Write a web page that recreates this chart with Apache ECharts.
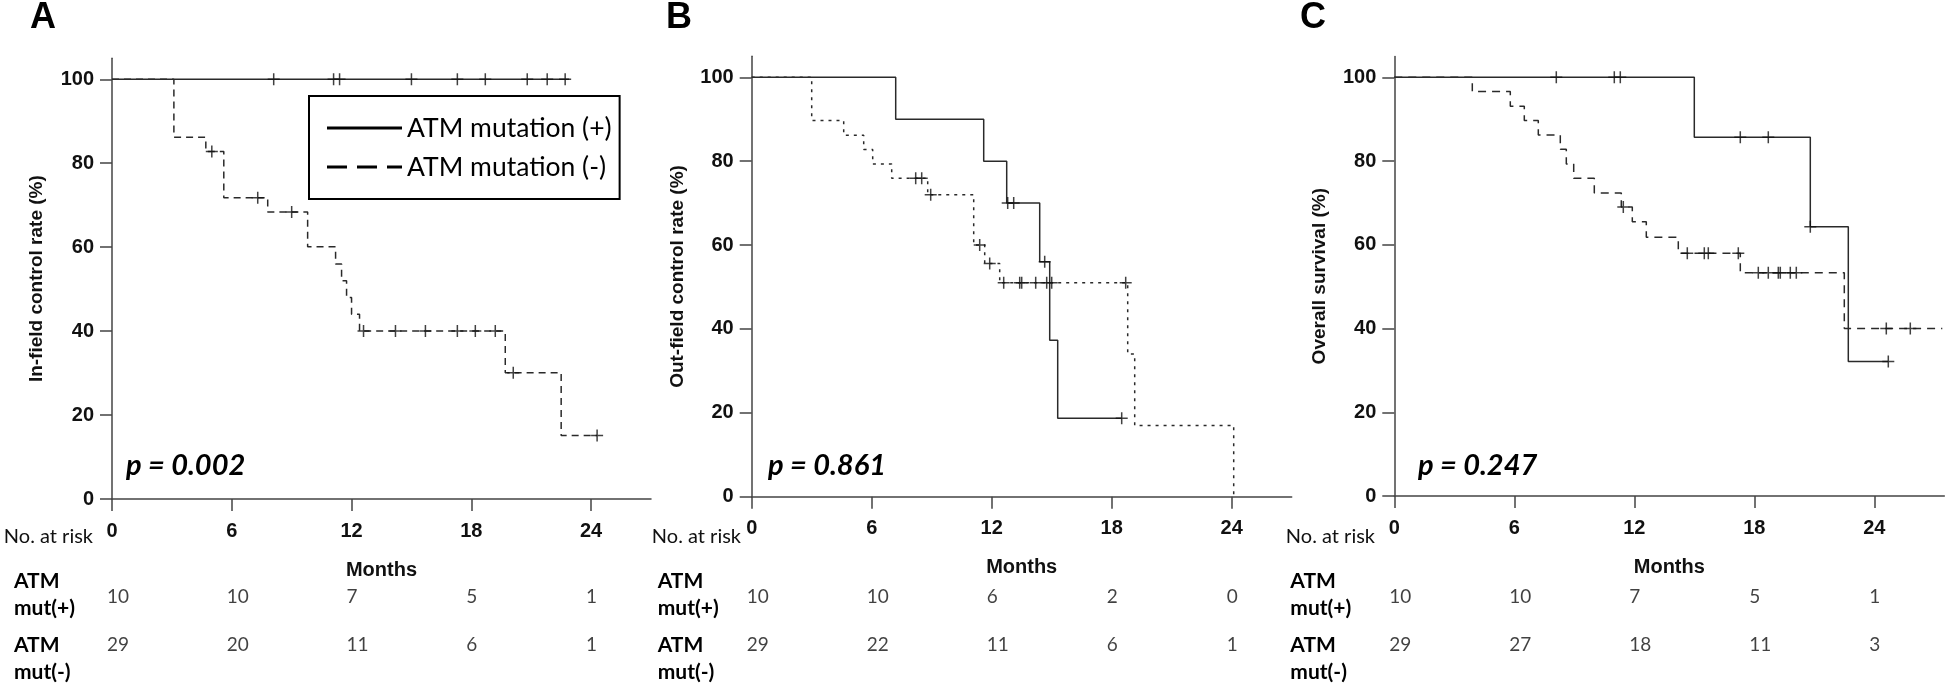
<!DOCTYPE html>
<html>
<head>
<meta charset="utf-8">
<script src="https://cdn.jsdelivr.net/npm/echarts@6/dist/echarts.min.js"></script>
<style>
html,body{margin:0;padding:0;background:#fff;}
#chart{width:1946px;height:690px;}
</style>
</head>
<body>
<div id="chart"></div>
<script>
// ---------- data ----------
const monthTicks = [0, 6, 12, 18, 24];
const pctTicks = [0, 20, 40, 60, 80, 100];
const groupNames = ['ATM mutation (+)', 'ATM mutation (-)'];
const riskRows = ['ATM\nmut(+)', 'ATM\nmut(-)'];

// Panel A: in-field control rate
const aPosT = [0, 22.9];
const aPosS = [100, 100];
const aPosCensT = [8.1, 11.1, 11.4, 15.0, 17.3, 18.7, 20.8, 21.8, 22.7];
const aPosCensS = [100, 100, 100, 100, 100, 100, 100, 100, 100];
const aNegT = [0, 3.1, 4.7, 5.6, 7.8, 9.8, 11.2, 11.5, 11.75, 12.0, 12.4, 19.7, 22.5, 24.3];
const aNegS = [100, 86.2, 82.8, 71.8, 68.4, 60.1, 56.0, 52.0, 48.0, 44.0, 40.0, 30.1, 15.1, 15.1];
const aNegCensT = [5.0, 7.3, 9.0, 12.6, 14.2, 15.7, 17.3, 18.2, 19.2, 20.1, 24.3];
const aNegCensS = [82.8, 71.8, 68.4, 40, 40, 40, 40, 40, 40, 30.1, 15.1];
const aRiskPos = [10, 10, 7, 5, 1];
const aRiskNeg = [29, 20, 11, 6, 1];

// Panel B: out-field control rate
const bPosT = [0, 7.2, 11.6, 12.75, 14.4, 14.9, 15.3, 18.5];
const bPosS = [100, 90, 80, 70, 56, 37.3, 18.7, 18.7];
const bPosCensT = [12.8, 13.1, 14.65, 18.5];
const bPosCensS = [70, 70, 56, 18.7];
const bNegT = [0, 3.0, 4.6, 5.6, 6.05, 7.0, 8.8, 11.1, 11.65, 12.4, 18.8, 19.15, 24.1];
const bNegS = [100, 89.7, 86.2, 82.8, 79.3, 75.9, 72.0, 60.0, 55.6, 51.0, 34.0, 17.0, 0];
const bNegCensT = [8.2, 8.5, 8.95, 11.4, 11.9, 12.6, 13.4, 13.5, 14.2, 14.75, 15.0, 18.7];
const bNegCensS = [75.9, 75.9, 72.0, 60.0, 55.6, 51, 51, 51, 51, 51, 51, 51];
const bRiskPos = [10, 10, 6, 2, 0];
const bRiskNeg = [29, 22, 11, 6, 1];

// Panel C: overall survival
const cPosT = [0, 15.0, 20.8, 22.7, 24.7];
const cPosS = [100, 85.7, 64.3, 32.1, 32.1];
const cPosCensT = [8.1, 11.0, 11.3, 17.3, 18.7, 20.8, 24.7];
const cPosCensS = [100, 100, 100, 85.7, 85.7, 64.3, 32.1];
const cNegT = [0, 3.9, 5.8, 6.5, 7.2, 8.3, 8.6, 8.97, 10.0, 11.35, 11.9, 12.6, 14.2, 17.3, 22.5, 27.4];
const cNegS = [100, 96.6, 93.1, 89.7, 86.2, 82.8, 79.3, 75.9, 72.4, 69.0, 65.5, 61.8, 58.0, 53.3, 40.0, 40.0];
const cNegCensT = [11.45, 14.65, 15.5, 15.7, 17.2, 18.2, 18.7, 19.2, 19.3, 19.8, 20.1, 24.6, 25.8];
const cNegCensS = [69.0, 58, 58, 58, 58, 53.3, 53.3, 53.3, 53.3, 53.3, 53.3, 40, 40];
const cRiskPos = [10, 10, 7, 5, 1];
const cRiskNeg = [29, 27, 18, 11, 3];

const panelLetters = ['A', 'B', 'C'];
const yNames = ['In-field control rate (%)', 'Out-field control rate (%)', 'Overall survival (%)'];
const pValues = ['p = 0.002', 'p = 0.861', 'p = 0.247'];
const xName = 'Months';
const riskTitle = 'No. at risk';

// ---------- layout / style ----------
const panels = [
  {left: 112, top: 58.3, height: 440.7, width: 539, xmax: 27, nameGap: 66, rowMargin: 98, riskX: 93, pX: 126, letterX: 30,
   pos: [aPosT, aPosS, aPosCensT, aPosCensS], neg: [aNegT, aNegS, aNegCensT, aNegCensS], risk: [aRiskPos, aRiskNeg], negDash: [7, 5]},
  {left: 751.7, top: 56.3, height: 440.4, width: 540, xmax: 27, nameGap: 64, rowMargin: 94, riskX: 741, pX: 768, letterX: 666,
   pos: [bPosT, bPosS, bPosCensT, bPosCensS], neg: [bNegT, bNegS, bNegCensT, bNegCensS], risk: [bRiskPos, bRiskNeg], negDash: [3, 5]},
  {left: 1394.3, top: 56.4, height: 439.6, width: 550, xmax: 27.5, nameGap: 65, rowMargin: 104, riskX: 1375, pX: 1418, letterX: 1300,
   pos: [cPosT, cPosS, cPosCensT, cPosCensS], neg: [cNegT, cNegS, cNegCensT, cNegCensS], risk: [cRiskPos, cRiskNeg], negDash: [8, 6]}
];

const narrow = '"Liberation Sans Narrow","Arial Narrow","Liberation Sans",Arial,sans-serif';
const arial = '"Liberation Sans",Arial,sans-serif';
const calibri = 'Lato,"Open Sans",sans-serif';
const lineColor = '#2a2a2a';
const axisColor = '#444';

const zip = (a, b) => a.map((v, i) => [v, b[i]]);
const plusSymbol = 'path://M5,0L5,10M0,5L10,5';
const legendSolid = 'path://M0,0H75V3H0Z';
const legendDashed = 'path://M0,0H20V3H0Z M30,0H50V3H30Z M60,0H75V3H60Z';

const grid = [], xAxis = [], yAxis = [], series = [], title = [], graphic = [];

panels.forEach((p, i) => {
  grid.push({left: p.left, top: p.top, width: p.width, height: p.height, containLabel: false});
  grid.push({left: p.left, top: 563.5, width: p.width, height: 130, containLabel: false});
  const gMain = i * 2, gRisk = i * 2 + 1;

  xAxis.push({
    gridIndex: gMain, type: 'value', min: 0, max: p.xmax,
    name: xName, nameLocation: 'middle', nameGap: 61,
    nameTextStyle: {fontFamily: narrow, fontWeight: 'bold', fontSize: 20, color: '#111'},
    axisLine: {show: true, onZero: false, lineStyle: {color: axisColor, width: 1.5}},
    axisTick: {show: true, length: 12, customValues: monthTicks, lineStyle: {color: axisColor, width: 1.5}},
    axisLabel: {customValues: monthTicks, margin: 22, fontFamily: narrow, fontWeight: 'bold', fontSize: 20, color: '#111'},
    splitLine: {show: false}
  });
  yAxis.push({
    gridIndex: gMain, type: 'value', min: 0, max: 105,
    name: yNames[i], nameLocation: 'middle', nameGap: p.nameGap, nameRotate: 90,
    nameTextStyle: {fontFamily: arial, fontWeight: 'bold', fontSize: 19, color: '#111'},
    axisLine: {show: true, onZero: false, lineStyle: {color: axisColor, width: 1.5}},
    axisTick: {show: true, length: 12, customValues: pctTicks, lineStyle: {color: axisColor, width: 1.5}},
    axisLabel: {customValues: pctTicks, margin: 18, fontFamily: narrow, fontWeight: 'bold', fontSize: 20, color: '#111'},
    splitLine: {show: false}
  });
  xAxis.push({gridIndex: gRisk, type: 'value', min: 0, max: p.xmax, show: false});
  yAxis.push({
    gridIndex: gRisk, type: 'category', data: riskRows, inverse: true,
    axisLine: {show: false}, axisTick: {show: false}, splitLine: {show: false},
    axisLabel: {align: 'left', margin: p.rowMargin, fontFamily: calibri, fontWeight: 'bold', fontSize: 21, lineHeight: 27, color: '#000'}
  });

  const xi = i * 2, yi = i * 2;
  const nameSuffix = i === 0 ? '' : ' ' + panelLetters[i];
  series.push({
    name: groupNames[0] + nameSuffix, type: 'line', xAxisIndex: xi, yAxisIndex: yi,
    data: zip(p.pos[0], p.pos[1]), step: 'end', symbol: 'none', showSymbol: false,
    itemStyle: {color: lineColor},
    lineStyle: {color: lineColor, width: 1.5, type: 'solid'}, z: 3
  });
  series.push({
    name: groupNames[1] + nameSuffix, type: 'line', xAxisIndex: xi, yAxisIndex: yi,
    data: zip(p.neg[0], p.neg[1]), step: 'end', symbol: 'none', showSymbol: false,
    itemStyle: {color: lineColor},
    lineStyle: {color: lineColor, width: 1.5, type: p.negDash}, z: 3
  });
  [p.pos, p.neg].forEach(g => {
    series.push({
      type: 'scatter', xAxisIndex: xi, yAxisIndex: yi, data: zip(g[2], g[3]),
      symbol: plusSymbol, symbolSize: 12,
      itemStyle: {color: 'none', borderColor: '#111', borderWidth: 1.5}, z: 4, silent: true
    });
  });
  p.risk.forEach((vals, r) => {
    series.push({
      type: 'scatter', xAxisIndex: xi + 1, yAxisIndex: yi + 1,
      data: monthTicks.map((m, k) => [m, r, vals[k]]),
      symbolSize: 0, itemStyle: {color: 'transparent'}, silent: true,
      label: {show: true, position: [-5, 0], align: 'left', verticalAlign: 'middle',
        offset: [0, r === 0 ? 2 : -14],
        formatter: d => String(d.value[2]), fontFamily: calibri, fontSize: 19, color: '#111'}
    });
  });

  title.push({text: panelLetters[i], left: p.letterX, top: 0, padding: 0,
    textStyle: {fontFamily: arial, fontWeight: 'bold', fontSize: 36, color: '#000'}});
  title.push({text: pValues[i], left: p.pX, top: 451, padding: 0,
    textStyle: {fontFamily: calibri, fontWeight: 'bold', fontStyle: 'italic', fontSize: 29, color: '#000'}});
  graphic.push({type: 'text', x: p.riskX, y: 537,
    style: {text: riskTitle, fill: '#111', font: '20px ' + calibri, textAlign: 'right', textVerticalAlign: 'middle'}});
});

const chart = echarts.init(document.getElementById('chart'), null, {renderer: 'canvas'});
chart.setOption({
  animation: false,
  backgroundColor: '#fff',
  title, grid, xAxis, yAxis, series, graphic,
  legend: {
    left: 309, top: 96, orient: 'vertical',
    padding: [16, 8, 16, 18], itemGap: 7, itemWidth: 75, itemHeight: 3, itemTextGap: 28,
    borderColor: '#000', borderWidth: 2, backgroundColor: '#fff',
    textStyle: {fontFamily: calibri, fontSize: 26.5, color: '#000', lineHeight: 32},
    data: [
      {name: groupNames[0], icon: legendSolid, itemStyle: {color: '#000', borderWidth: 0, opacity: 1}},
      {name: groupNames[1], icon: legendDashed, itemStyle: {color: '#000', borderWidth: 0, opacity: 1}}
    ],
    selectedMode: false
  }
});
</script>
</body>
</html>
